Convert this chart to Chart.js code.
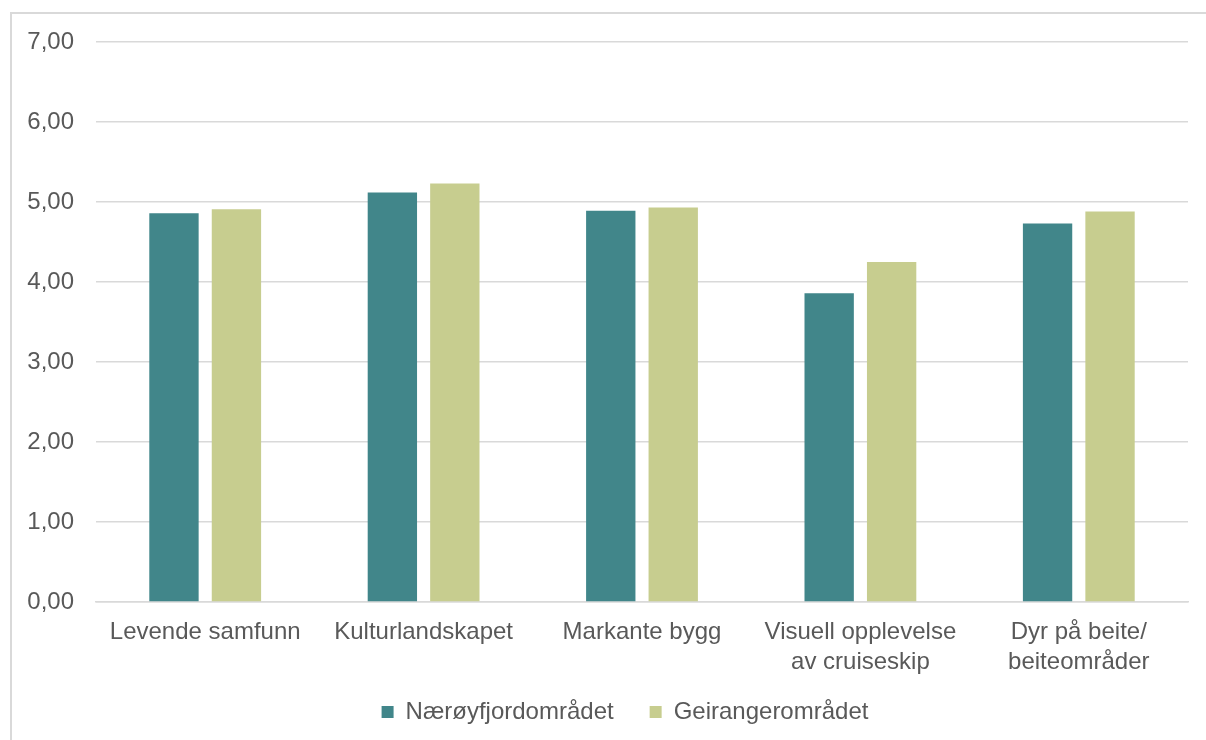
<!DOCTYPE html>
<html>
<head>
<meta charset="utf-8">
<script src="https://cdn.jsdelivr.net/npm/chart.js@4/dist/chart.umd.min.js"></script>
<style>
  html, body { margin: 0; padding: 0; background: #fff; overflow: hidden; }
  #wrap { position: relative; width: 1206px; height: 740px; }
  #frame {
    position: absolute; left: 10px; top: 12px; width: 1300px; height: 800px;
    border-left: 2px solid #d9d9d9; border-top: 2px solid #d9d9d9;
  }
  canvas { position: absolute; left: 0; top: 0; }
</style>
</head>
<body>
<div id="wrap">
  <div id="frame"></div>
  <canvas id="chart" width="1206" height="740"></canvas>
</div>
<script>
// ─── Data ────────────────────────────────────────────────────────────────────
const categories = [
    "Levende samfunn",
    "Kulturlandskapet",
    "Markante bygg",
    ["Visuell opplevelse", "av cruiseskip"],
    ["Dyr på beite/", "beiteområder"]
];
const seriesNames   = ["Nærøyfjordområdet", "Geirangerområdet"];
const naeroyValues  = [4.86, 5.12, 4.89, 3.86, 4.73];
const geirangValues = [4.91, 5.23, 4.93, 4.25, 4.88];
const yTicks = [0, 1, 2, 3, 4, 5, 6, 7];

// ─── Style ───────────────────────────────────────────────────────────────────
const TEAL  = "#41868a";
const GREEN = "#c7cd8f";
const TEXT  = "#595959";
const GRID  = "#d9d9d9";
const FONT  = "'Liberation Sans', Arial, sans-serif";

Chart.defaults.font.family = FONT;
Chart.defaults.color = TEXT;

const fmt = v => v.toFixed(2).replace(".", ",");

// nudge the legend to where the original sits (a bit right of centre, a bit up)
const legendShift = {
    id: "legendShift",
    afterLayout(chart) {
        const lg = chart.legend;
        if (!lg) return;
        lg.left += 31;  lg.right += 31;
        lg.top  -= 13;  lg.bottom -= 13;
    }
};

new Chart(document.getElementById("chart").getContext("2d"), {
    type: "bar",
    plugins: [legendShift],
    data: {
        labels: categories,
        datasets: [
            {
                label: seriesNames[0],
                data: naeroyValues,
                backgroundColor: TEAL,
                categoryPercentage: 0.572,
                barPercentage: 0.79
            },
            {
                label: seriesNames[1],
                data: geirangValues,
                backgroundColor: GREEN,
                categoryPercentage: 0.572,
                barPercentage: 0.79
            }
        ]
    },
    options: {
        responsive: false,
        animation: false,
        layout: { padding: { top: 42, right: 18, bottom: 0, left: 0 } },
        scales: {
            y: {
                min: yTicks[0],
                max: yTicks[yTicks.length - 1],
                afterBuildTicks: s => { s.ticks = yTicks.map(v => ({ value: v })); },
                afterFit: s => { s.width = 96; },
                ticks: {
                    callback: v => fmt(v),
                    font: { size: 24 },
                    color: TEXT,
                    padding: 22
                },
                grid: { color: GRID, lineWidth: 1.5, drawTicks: false },
                border: { display: false }
            },
            x: {
                afterFit: s => { s.height = 75; },
                ticks: {
                    font: { size: 24, lineHeight: 1.22 },
                    color: TEXT,
                    padding: 16,
                    maxRotation: 0,
                    autoSkip: false
                },
                grid: { display: false, drawTicks: false },
                border: { display: true, color: GRID, width: 1.5 }
            }
        },
        plugins: {
            legend: {
                position: "bottom",
                maxHeight: 63,
                labels: {
                    font: { size: 24 },
                    color: TEXT,
                    boxWidth: 12,
                    boxHeight: 12,
                    padding: 36
                }
            },
            tooltip: { enabled: false }
        }
    }
});
</script>
</body>
</html>
